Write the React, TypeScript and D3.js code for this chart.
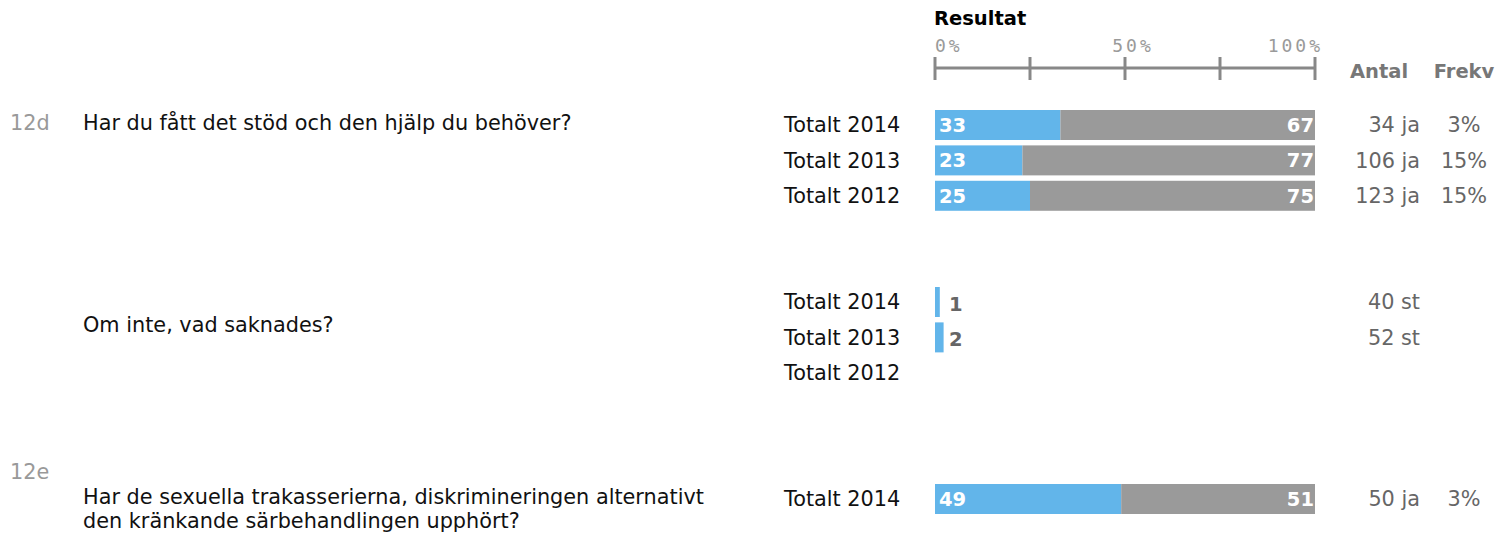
import React from "react";
import * as d3 from "d3";

const axisTicks = [0, 25, 50, 75, 100];
const axisLabels = [
  { v: 0, t: "0%" },
  { v: 50, t: "50%" },
  { v: 100, t: "100%" },
];

const q1Id = "12d";
const q1Text = ["Har du fått det stöd och den hjälp du behöver?"];
const q1Years = ["Totalt 2014", "Totalt 2013", "Totalt 2012"];
const q1Yes = [33, 23, 25];
const q1No = [67, 77, 75];
const q1Antal = ["34 ja", "106 ja", "123 ja"];
const q1Frekv = ["3%", "15%", "15%"];

const q2Text = ["Om inte, vad saknades?"];
const q2Years = ["Totalt 2014", "Totalt 2013", "Totalt 2012"];
const q2Values: (number | null)[] = [1, 2, null];
const q2Antal = ["40 st", "52 st", ""];

const q3Id = "12e";
const q3Text = [
  "Har de sexuella trakasserierna, diskrimineringen alternativt",
  "den kränkande särbehandlingen upphört?",
];
const q3Years = ["Totalt 2014"];
const q3Yes = [49];
const q3No = [51];
const q3Antal = ["50 ja"];
const q3Frekv = ["3%"];

const FONT = "'DejaVu Sans', Verdana, sans-serif";
const BLUE = "#62b5ea";
const GREY = "#9a9a9a";

export default function App() {
  const W = 1511;
  const H = 539;
  const x = d3.scaleLinear().domain([0, 100]).range([935, 1315]);
  const barH = 30;
  const step = 34;
  const fs = 20.8;
  const fb = 19.5;

  const stacked = (
    years: string[],
    yes: number[],
    no: number[],
    antal: string[],
    frekv: string[],
    top: number,
    key: string
  ) => {
    const y = d3
      .scaleBand()
      .domain(years)
      .range([top, top + step * years.length])
      .paddingInner(4 / step)
      .paddingOuter(0);
    return years.map((yr, i) => {
      const y0 = y(yr)!;
      const cy = y0 + barH / 2;
      return (
        <g key={key + i}>
          <text x={784} y={cy} dy="0.35em" fontSize={fs} fill="#111">
            {yr}
          </text>
          <rect x={x(0)} y={y0} width={x(yes[i]) - x(0)} height={barH} fill={BLUE} />
          <rect x={x(yes[i])} y={y0} width={x(yes[i] + no[i]) - x(yes[i])} height={barH} fill={GREY} />
          <text x={x(0) + 4} y={cy} dy="0.36em" fontSize={fb} fontWeight="bold" fill="#fff">
            {yes[i]}
          </text>
          <text x={x(100) - 1} y={cy} dy="0.36em" fontSize={fb} fontWeight="bold" fill="#fff" textAnchor="end">
            {no[i]}
          </text>
          <text x={1420} y={cy} dy="0.35em" fontSize={fs} fill="#666" textAnchor="end">
            {antal[i]}
          </text>
          <text x={1464} y={cy} dy="0.35em" fontSize={fs} fill="#666" textAnchor="middle">
            {frekv[i]}
          </text>
        </g>
      );
    });
  };

  const q2Top = 287;
  const y2 = d3
    .scaleBand()
    .domain(q2Years)
    .range([q2Top, q2Top + step * q2Years.length])
    .paddingInner(4 / step)
    .paddingOuter(0);

  return (
    <svg
      width={W}
      height={H}
      style={{ position: "absolute", left: 0, top: 0, fontFamily: FONT }}
    >
      <rect width={W} height={H} fill="#fff" />
      {/* header */}
      <text x={934} y={25} fontSize={fb} fontWeight="bold" fill="#000">
        Resultat
      </text>
      {axisLabels.map((d) => (
        <text
          key={d.t}
          x={d.v === 0 ? x(0) : d.v === 100 ? x(100) + 8 : x(d.v) + 8}
          y={52}
          fontSize={18}
          fill="#9a9a9a"
          letterSpacing={3}
          fontFamily="'DejaVu Sans Mono', monospace"
          textAnchor={d.v === 0 ? "start" : d.v === 100 ? "end" : "middle"}
        >
          {d.t}
        </text>
      ))}
      <line x1={x(0)} x2={x(100)} y1={68} y2={68} stroke="#888" strokeWidth={3} />
      {axisTicks.map((t) => (
        <line key={t} x1={x(t)} x2={x(t)} y1={57} y2={80} stroke="#888" strokeWidth={3} />
      ))}
      <text x={1379} y={78} fontSize={fb} fontWeight="bold" fill="#777" textAnchor="middle">
        Antal
      </text>
      <text x={1464} y={78} fontSize={fb} fontWeight="bold" fill="#777" textAnchor="middle">
        Frekv
      </text>

      {/* Q1 */}
      <text x={10} y={123} dy="0.35em" fontSize={fs} fill="#999">
        {q1Id}
      </text>
      {q1Text.map((t, i) => (
        <text key={i} x={83} y={123 + i * 24} dy="0.35em" fontSize={fs} fill="#111">
          {t}
        </text>
      ))}
      {stacked(q1Years, q1Yes, q1No, q1Antal, q1Frekv, 110, "q1")}

      {/* Q2 */}
      {q2Text.map((t, i) => (
        <text key={i} x={83} y={325 + i * 24} dy="0.35em" fontSize={fs} fill="#111">
          {t}
        </text>
      ))}
      {q2Years.map((yr, i) => {
        const y0 = y2(yr)!;
        const cy = y0 + barH / 2;
        const v = q2Values[i];
        return (
          <g key={"q2" + i}>
            <text x={784} y={cy} dy="0.35em" fontSize={fs} fill="#111">
              {yr}
            </text>
            {v != null && (
              <>
                <rect x={x(0)} y={y0} width={x(v) - x(0) + 1} height={barH} fill={BLUE} />
                <text x={x(0) + 14} y={cy + 2} dy="0.36em" fontSize={fb} fontWeight="bold" fill="#666">
                  {v}
                </text>
              </>
            )}
            <text x={1420} y={cy} dy="0.35em" fontSize={fs} fill="#666" textAnchor="end">
              {q2Antal[i]}
            </text>
          </g>
        );
      })}

      {/* Q3 */}
      <text x={10} y={472} dy="0.35em" fontSize={fs} fill="#999">
        {q3Id}
      </text>
      {q3Text.map((t, i) => (
        <text key={i} x={83} y={497 + i * 24} dy="0.35em" fontSize={fs} fill="#111">
          {t}
        </text>
      ))}
      {stacked(q3Years, q3Yes, q3No, q3Antal, q3Frekv, 482, "q3")}
    </svg>
  );
}
